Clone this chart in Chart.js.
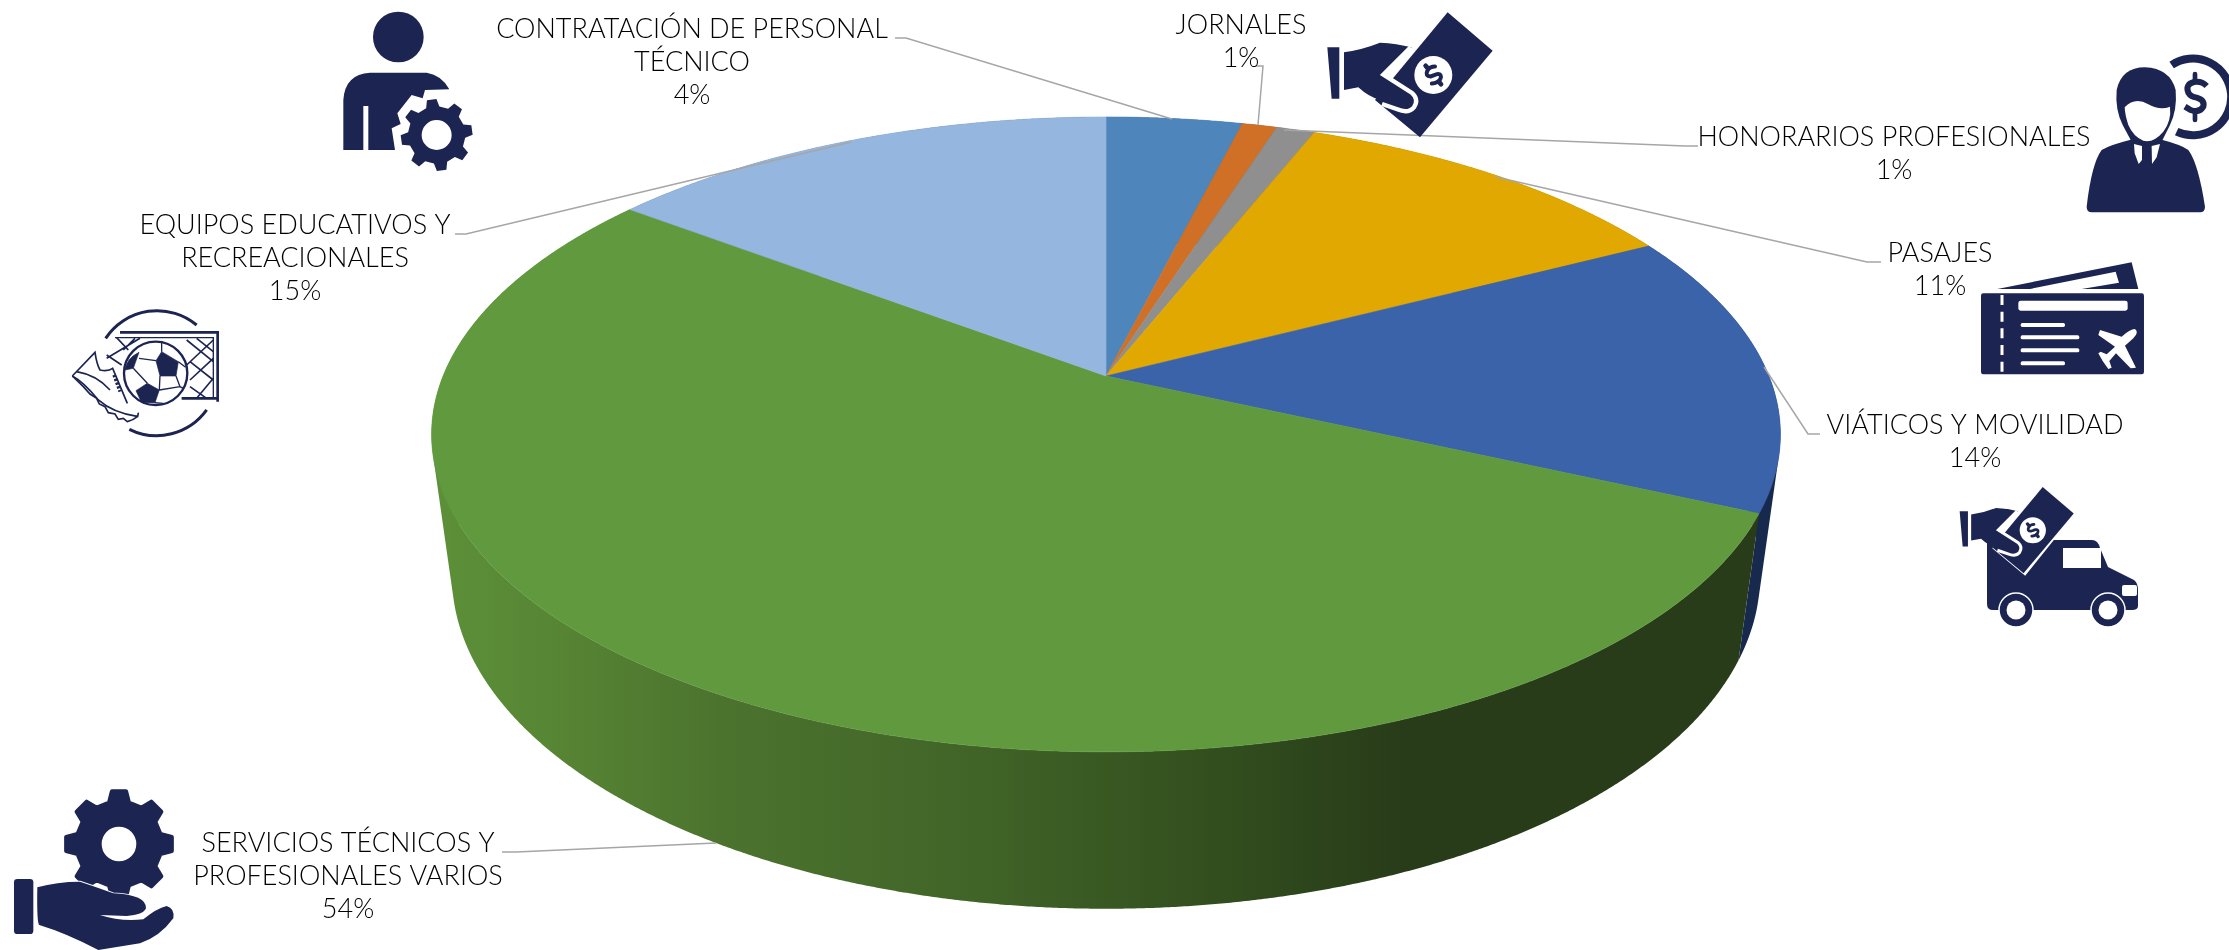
<!DOCTYPE html>
<html lang="es">
<head>
<meta charset="utf-8">
<title>Distribución del gasto</title>
<script src="https://cdn.jsdelivr.net/npm/chart.js@4"></script>
<style>
html,body{margin:0;padding:0;background:#fff;width:2229px;height:950px;overflow:hidden}
#wrap{position:relative;width:2229px;height:950px}
canvas{position:absolute;left:0;top:0}
#icons{position:absolute;left:0;top:0;pointer-events:none}
</style>
</head>
<body>
<div id="wrap">
<canvas id="c" width="2229" height="950"></canvas>
<svg id="icons" width="2229" height="950" viewBox="0 0 2229 950" xmlns="http://www.w3.org/2000/svg">
  <defs>
    <g id="moneyHand">
      <polygon points="503,37 638,152 420,412 285,300" fill="#1c2452"/>
      <circle cx="460" cy="225" r="57" fill="#fff"/>
      <g transform="translate(460,225) rotate(-40)" fill="none" stroke="#1c2452" stroke-width="12" stroke-linecap="round">
        <path d="M20,-16 Q8,-26 -6,-21 Q-22,-13 -9,-2 L10,5 Q24,14 8,23 Q-6,27 -20,17"/>
        <path d="M0,-36 V-27 M0,27 V36" stroke-width="14"/>
      </g>
      <polygon points="142,142 178,142 178,296 155,296" fill="#1c2452"/>
      <path d="M192,157 Q250,148 300,128 Q350,130 395,142 L305,225 L395,282 Q415,300 402,320 Q385,340 355,326 L305,315 L300,300 Q265,290 235,262 L192,270 Z" fill="#1c2452"/>
      <path d="M392,142 L310,224 L395,278 Q418,298 402,322 Q385,342 352,328 L306,312" fill="none" stroke="#fff" stroke-width="13"/>
    </g>
  </defs>

  <!-- persona con engrane -->
  <g transform="translate(330,0) scale(0.3333)" fill="#1c2452">
    <circle cx="205" cy="111" r="76"/>
    <path d="M40,450 L40,300 Q45,222 120,218 L290,218 Q335,225 358,268 L285,270 L278,295 L245,285 L202,340 L212,372 L185,385 L195,450 L115,450 L115,318 L100,318 L100,450 Z"/>
    <path id="gear1" fill-rule="evenodd"/>
  </g>

  <!-- balón y arco -->
  <g transform="translate(40,290) scale(0.3333)" fill="none" stroke="#1c2452">
    <path d="M197,145 A185,185 0 0 1 470,105" stroke-width="9"/>
    <path d="M500,360 A185,185 0 0 1 268,418" stroke-width="9"/>
    <path d="M240,127 H533 V335 M425,325 H533" stroke-width="8"/>
    <path d="M225,143 H520 V325" stroke-width="4"/>
    <path d="M440,150 L520,215 M470,145 L520,185 M520,150 L440,225 M520,205 L450,270 M450,215 L520,270 M450,290 L500,325 M520,265 L470,325 M230,143 L265,180 M300,145 L200,205 M200,195 L245,225 M285,145 L250,180" stroke-width="5"/>
    <circle cx="347" cy="250" r="95" fill="#fff" stroke-width="7"/>
    <path d="M365,185 L415,215 L408,258 L360,258 L348,212 Z M322,280 L358,300 L345,338 L305,338 L288,302 Z M297,187 L280,235 L255,240 Q260,205 297,187 Z" fill="#1c2452" stroke-width="2"/>
    <path d="M348,212 L297,205 M365,185 L365,158 M415,215 L437,232 M408,258 L420,290 L432,296 M360,258 L358,300 M322,280 L280,235 M420,290 L358,300 M345,338 L370,340" stroke-width="4"/>
    <path d="M97,258 L165,187 Q170,222 180,240 Q205,245 218,235 L262,340 M97,258 Q130,275 175,330 Q220,370 295,380 M110,245 Q170,255 210,300" stroke-width="5"/>
    <path d="M295,368 Q297,385 262,395 L250,385 L235,388 L225,372 L205,368 L195,350 L178,342 L170,325 L150,312 L130,290 L97,258" stroke-width="5"/>
    <path d="M222,255 L240,305" stroke-width="10" stroke-dasharray="7 5"/>
  </g>

  <!-- mano con billete -->
  <use href="#moneyHand" transform="translate(1280,0) scale(0.3333)"/>

  <!-- profesional -->
  <g transform="translate(2060,50) scale(0.3333)">
    <path d="M335,45 A115,115 0 1 1 350,245" fill="none" stroke="#1c2452" stroke-width="24"/>
    <path d="M440,108 Q425,92 402,96 Q375,103 385,128 Q392,140 410,143 Q435,150 430,170 Q418,190 392,180 L375,170" fill="none" stroke="#1c2452" stroke-width="18"/>
    <path d="M405,72 V92 M405,185 V210" fill="none" stroke="#1c2452" stroke-width="14" stroke-linecap="round"/>
    <path d="M188,225 Q165,180 170,120 Q185,52 255,52 Q330,55 347,120 Q352,180 330,225 L305,275 L215,275 Z" fill="#1c2452"/>
    <path d="M80,470 Q95,340 125,300 Q150,285 218,268 L300,268 Q365,285 385,300 Q415,340 435,470 Q435,487 420,487 L95,487 Q80,487 80,470 Z" fill="#1c2452"/>
    <path d="M194,172 Q225,140 265,163 Q300,182 330,170 Q335,212 310,245 Q280,280 250,272 Q220,260 205,225 Q195,195 194,172 Z" fill="#fff"/>
    <path d="M222,282 L246,288 L246,330 L236,342 L224,310 Z M275,288 L300,282 L290,322 L276,342 Z" fill="#fff"/>
  </g>

  <!-- boleto -->
  <g transform="translate(1970,255) scale(0.3333)">
    <path d="M82,102 L485,22 L505,102 L335,102 L447,83 L437,50 L180,102 Z" fill="#1c2452"/>
    <rect x="33" y="115" width="489" height="243" rx="7" fill="#1c2452"/>
    <path d="M96,115 V358" stroke="#fff" stroke-width="9" stroke-dasharray="30 20" stroke-dashoffset="-5" fill="none"/>
    <g fill="#fff">
      <rect x="145" y="137" width="328" height="30" rx="7"/>
      <rect x="152" y="204" width="133" height="12" rx="5"/>
      <rect x="152" y="241" width="176" height="12" rx="5"/>
      <rect x="152" y="280" width="176" height="12" rx="5"/>
      <rect x="152" y="319" width="133" height="12" rx="5"/>
      <path d="M495,222 Q508,232 490,250 L465,272 L498,338 L482,340 L438,295 L418,318 L425,338 L415,342 L398,318 L385,295 L392,290 L410,298 L435,275 L385,240 L390,225 L455,245 Q480,222 495,222 Z"/>
    </g>
  </g>

  <!-- camión -->
  <g fill="#1c2452">
    <path d="M1987,540 H2092 Q2098,540 2100,548 L2108,567 L2134,580 Q2138,583 2138,590 V606 Q2138,610 2132,610 H1993 Q1987,610 1987,604 Z"/>
    <rect x="2063" y="548" width="38" height="20" fill="#fff"/>
    <rect x="2122" y="585" width="15" height="11" rx="2" fill="#fff"/>
    <circle cx="2016" cy="610" r="17" stroke="#fff" stroke-width="1.5"/>
    <circle cx="2016" cy="610" r="9.5" fill="#fff"/>
    <circle cx="2108" cy="610" r="17" stroke="#fff" stroke-width="1.5"/>
    <circle cx="2108" cy="610" r="9.5" fill="#fff"/>
  </g>
  <polygon points="2043,487 2074,513 2025,574 1994,548" fill="#fff" stroke="#fff" stroke-width="2.5"/>
  <use href="#moneyHand" transform="translate(1927,478.5) scale(0.23)"/>

  <!-- mano con engrane -->
  <g transform="translate(0,780) scale(0.3333)" fill="#1c2452">
    <path id="gear2" fill-rule="evenodd" stroke="#1c2452" stroke-width="12" stroke-linejoin="round"/>
    <rect x="42" y="297" width="58" height="165" rx="10"/>
    <path d="M112,322 Q170,305 240,305 Q300,325 340,340 Q440,345 438,385 Q430,405 380,408 L300,405 Q360,425 430,418 Q470,385 500,378 Q525,385 520,415 Q480,470 420,490 L295,510 Q200,460 118,435 Q110,433 112,322 Z" stroke="#fff" stroke-width="5" paint-order="stroke"/>
  </g>
</svg>
</div>
<script>
const categories = [
  "CONTRATACIÓN DE PERSONAL TÉCNICO",
  "JORNALES",
  "HONORARIOS PROFESIONALES",
  "PASAJES",
  "VIÁTICOS Y MOVILIDAD",
  "SERVICIOS TÉCNICOS Y PROFESIONALES VARIOS",
  "EQUIPOS EDUCATIVOS Y RECREACIONALES"
];
const sharePercent = [3.9, 1.0, 1.1, 11.4, 14.4, 53.5, 14.7];
const topColors = ["#4e86bb", "#cf7026", "#8f8f8f", "#e0a800", "#3b63aa", "#619a3e", "#95b6de"];
const wallColors = ["#2b4a68", "#723e15", "#4f4f4f", "#7c5d00", "#18294e", "#3f6328", "#52647b"];
const labelLines = [
  ["CONTRATACIÓN DE PERSONAL", "TÉCNICO"],
  ["JORNALES"],
  ["HONORARIOS PROFESIONALES"],
  ["PASAJES"],
  ["VIÁTICOS Y MOVILIDAD"],
  ["SERVICIOS TÉCNICOS Y", "PROFESIONALES VARIOS"],
  ["EQUIPOS EDUCATIVOS Y", "RECREACIONALES"]
];

/* page layout of the call-outs (centre x, first baseline, leader polyline) */
const labelAnchors = [
  {x:692,  y:38,  leader:[[895,38],[906,38],[1172,119]]},
  {x:1241, y:34,  leader:[[1255,66],[1263,66],[1258,125]]},
  {x:1894, y:146, leader:[[1698,146],[1685,146],[1284,130]]},
  {x:1940, y:262, leader:[[1881,262],[1867,262],[1496,177]]},
  {x:1975, y:434, leader:[[1820,434],[1808,434],[1764,367]]},
  {x:348,  y:852, leader:[[502,852],[516,852],[716,843]]},
  {x:295,  y:234, leader:[[455,234],[466,234],[851,142]]}
];
const LINE_H = 33.2;

/* Perspective camera, relative to the radius the pie controller computes */
const view = {ax:1.763, by:0.8157, wall:0.383, tilt:0.184, sink:0.03};

function project(el, angle, depth){
  const t = angle + Math.PI/2, R = el.outerRadius;
  const X = Math.sin(t), Y = Math.cos(t), w = 1 + view.tilt*Y + view.sink*depth;
  return [el.x + R*view.ax*X/w, el.y - R*(view.by*Y - view.wall*depth)/w];
}
function rim(ctx, el, a0, a1, depth, first){
  const n = Math.max(2, Math.ceil(Math.abs(a1-a0)/0.004));
  for(let i=0;i<=n;i++){
    const p = project(el, a0+(a1-a0)*i/n, depth);
    if(i===0 && first) ctx.moveTo(p[0],p[1]); else ctx.lineTo(p[0],p[1]);
  }
}
/* Wall of one slice as consistently wound strips, so the fold at the silhouette stays filled */
function wall(ctx, el){
  const n = Math.max(2, Math.ceil((el.endAngle-el.startAngle)/0.004));
  const da = (el.endAngle-el.startAngle)/n;
  for(let i=0;i<n;i++){
    const a0 = el.startAngle+i*da, a1 = a0+da;
    let q = [project(el,a0,0), project(el,a1,0), project(el,a1,1), project(el,a0,1)];
    let s = 0;
    q.forEach((p,k)=>{const r=q[(k+1)%4]; s += p[0]*r[1]-r[0]*p[1];});
    if(s<0) q = q.reverse();
    q.forEach((p,k)=> k ? ctx.lineTo(p[0],p[1]) : ctx.moveTo(p[0],p[1]));
    ctx.closePath();
  }
}

const perspectivePie = {
  id:'perspectivePie',
  beforeDatasetDraw(chart){
    const ctx = chart.ctx, arcs = chart.getDatasetMeta(0).data, colors = chart.data.datasets[0].backgroundColor;
    ctx.save();
    /* walls: back slices first, the big front slice last */
    const grad = ctx.createLinearGradient(431,0,1400,0);
    grad.addColorStop(0,'#5d9039');
    grad.addColorStop(0.12,'#578634');
    grad.addColorStop(0.3,'#4c732e');
    grad.addColorStop(0.55,'#416528');
    grad.addColorStop(0.78,'#34511f');
    grad.addColorStop(1,'#283c19');
    const order = [0,1,2,3,6,4,5];
    order.forEach(i=>{
      const el = arcs[i];
      ctx.beginPath();
      wall(ctx, el);
      ctx.fillStyle = i===5 ? grad : wallColors[i];
      ctx.fill('nonzero');
    });
    /* top faces */
    arcs.forEach((el,i)=>{
      ctx.beginPath();
      ctx.moveTo(el.x, el.y);
      rim(ctx, el, el.startAngle, el.endAngle, 0, false);
      ctx.closePath();
      ctx.fillStyle = colors[i];
      ctx.strokeStyle = colors[i];
      ctx.lineWidth = 0.6;
      ctx.fill();
      ctx.stroke();
    });
    ctx.restore();
    return false;
  },
  afterDraw(chart){
    const ctx = chart.ctx;
    const total = sharePercent.reduce((a,b)=>a+b,0);
    ctx.save();
    ctx.strokeStyle = '#a6a6a6';
    ctx.lineWidth = 1.5;
    labelAnchors.forEach(a=>{
      ctx.beginPath();
      a.leader.forEach((p,i)=> i ? ctx.lineTo(p[0],p[1]) : ctx.moveTo(p[0],p[1]));
      ctx.stroke();
    });
    ctx.fillStyle = '#000';
    ctx.font = '300 27px Lato, "Open Sans", sans-serif';
    ctx.textAlign = 'center';
    ctx.textBaseline = 'alphabetic';
    labelAnchors.forEach((a,i)=>{
      const lines = labelLines[i].concat([Math.round(sharePercent[i]/total*100)+'%']);
      lines.forEach((s,k)=> ctx.fillText(s, a.x, a.y + k*LINE_H));
    });
    ctx.restore();
  }
};

new Chart(document.getElementById('c'), {
  type:'pie',
  data:{labels:categories, datasets:[{data:sharePercent, backgroundColor:topColors, borderWidth:0}]},
  options:{
    responsive:false, animation:false, devicePixelRatio:1,
    layout:{padding:{left:0,right:17,top:0,bottom:198}},
    plugins:{legend:{display:false}, tooltip:{enabled:false}}
  },
  plugins:[perspectivePie]
});

function gearPath(cx,cy,rOut,rIn,teeth,rot,hole){
  let d='';
  const step=2*Math.PI/teeth;
  for(let i=0;i<teeth;i++){
    const a=rot+i*step;
    const pts=[[a-step*0.30,rIn],[a-step*0.17,rOut],[a+step*0.17,rOut],[a+step*0.30,rIn]];
    pts.forEach((p,k)=>{
      d+=((i===0&&k===0)?'M':'L')+(cx+p[1]*Math.cos(p[0])).toFixed(1)+','+(cy+p[1]*Math.sin(p[0])).toFixed(1)+' ';
    });
  }
  d+='Z M'+(cx+hole)+','+cy+' A'+hole+','+hole+' 0 1 0 '+(cx-hole)+','+cy+' A'+hole+','+hole+' 0 1 0 '+(cx+hole)+','+cy+' Z';
  return d;
}
document.getElementById('gear1').setAttribute('d', gearPath(320,405,108,86,8,-Math.PI/2-0.14,45));
document.getElementById('gear2').setAttribute('d', gearPath(357,192,160,128,8,-Math.PI/2,58));
</script>
</body>
</html>
